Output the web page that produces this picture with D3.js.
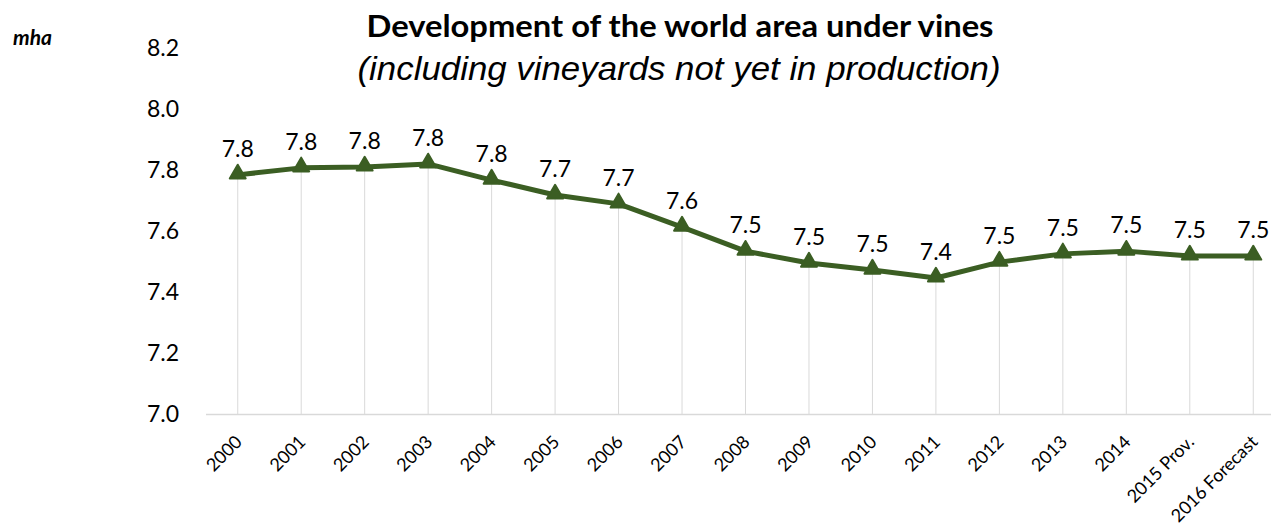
<!DOCTYPE html>
<html>
<head>
<meta charset="utf-8">
<script src="https://cdn.jsdelivr.net/npm/d3@7"></script>
<style>
  html, body { margin: 0; padding: 0; background: #fff; }
  svg { display: block; }
</style>
</head>
<body>
<svg id="chart" width="1271" height="525"></svg>
<script>
const categories = ["2000","2001","2002","2003","2004","2005","2006","2007","2008","2009","2010","2011","2012","2013","2014","2015 Prov.","2016 Forecast"];
const areaValues = [7.784, 7.807, 7.810, 7.820, 7.767, 7.718, 7.689, 7.613, 7.534, 7.495, 7.472, 7.446, 7.498, 7.525, 7.534, 7.518, 7.518];
const yTicks = [7.0, 7.2, 7.4, 7.6, 7.8, 8.0, 8.2];
const titleText = "Development of the world area under vines";
const subtitleText = "(including vineyards not yet in production)";
const unitText = "mha";

(function () {
const svg = d3.select("#chart");
const plotLeft = 206, plotRight = 1285, plotTop = 48, plotBottom = 414;
const lineColor = "#3b5e23";
const font = "Lato, 'Open Sans', sans-serif";

const x = d3.scalePoint().domain(categories).range([plotLeft, plotRight]).padding(0.5);
const y = d3.scaleLinear().domain([7.0, 8.2]).range([plotBottom, plotTop]);

// Drop lines
svg.append("g").selectAll("line").data(categories).join("line")
  .attr("x1", d => x(d)).attr("x2", d => x(d))
  .attr("y1", (d, i) => y(areaValues[i])).attr("y2", plotBottom)
  .attr("stroke", "#d9d9d9").attr("stroke-width", 1);

// X axis
const xAxis = svg.append("g").attr("transform", `translate(0,${plotBottom})`)
  .call(d3.axisBottom(x).tickSize(0).tickPadding(0));
xAxis.select(".domain").attr("d", `M${plotLeft},0.5H${plotRight}`).attr("stroke", "#d9d9d9").attr("stroke-width", 1.5);
xAxis.selectAll(".tick text")
  .attr("font-family", font)
  .attr("font-size", 18)
  .attr("fill", "#000")
  .attr("text-anchor", "end")
  .attr("dy", 0)
  .attr("y", 0)
  .attr("transform", "translate(5,29) rotate(-45)");

// Y axis
const yAxis = svg.append("g").attr("transform", `translate(179,0)`)
  .call(d3.axisLeft(y).tickValues(yTicks).tickFormat(d3.format(".1f")).tickSize(0).tickPadding(0));
yAxis.select(".domain").remove();
yAxis.selectAll(".tick text")
  .attr("font-family", font)
  .attr("font-size", 23)
  .attr("fill", "#000");

// Line
const line = d3.line().x((d, i) => x(categories[i])).y(d => y(d));
svg.append("path").datum(areaValues)
  .attr("d", line)
  .attr("fill", "none")
  .attr("stroke", lineColor)
  .attr("stroke-width", 5)
  .attr("stroke-linejoin", "round");

// Markers
svg.append("g").selectAll("path").data(areaValues).join("path")
  .attr("transform", (d, i) => `translate(${x(categories[i])},${y(d) - 1})`)
  .attr("d", d3.symbol().type(d3.symbolTriangle).size(110))
  .attr("fill", lineColor)
  .attr("stroke", lineColor)
  .attr("stroke-width", 2)
  .attr("stroke-linejoin", "round");

// Data labels
svg.append("g").selectAll("text").data(areaValues).join("text")
  .attr("x", (d, i) => x(categories[i]))
  .attr("y", d => y(d) - 18)
  .attr("text-anchor", "middle")
  .attr("font-family", font)
  .attr("font-size", 23)
  .attr("fill", "#000")
  .text(d => d3.format(".1f")(d));

// Title
svg.append("text").attr("x", 680).attr("y", 37)
  .attr("text-anchor", "middle")
  .attr("font-family", font)
  .attr("font-weight", "bold")
  .attr("font-size", 31)
  .attr("fill", "#000")
  .attr("textLength", 627)
  .attr("lengthAdjust", "spacingAndGlyphs")
  .text(titleText);
svg.append("text").attr("x", 679).attr("y", 80)
  .attr("text-anchor", "middle")
  .attr("font-family", "'Liberation Sans', Arial, sans-serif")
  .attr("font-style", "italic")
  .attr("font-size", 33)
  .attr("fill", "#000")
  .attr("textLength", 643)
  .attr("lengthAdjust", "spacingAndGlyphs")
  .text(subtitleText);

svg.append("text").attr("x", 13).attr("y", 45)
  .attr("font-family", font)
  .attr("font-weight", "bold")
  .attr("font-style", "italic")
  .attr("font-size", 21)
  .attr("fill", "#000")
  .text(unitText);
})();
</script>
</body>
</html>
